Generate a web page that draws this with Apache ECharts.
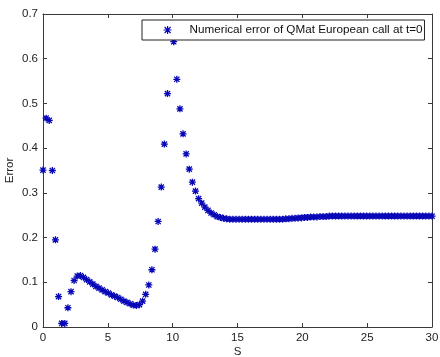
<!DOCTYPE html>
<html>
<head>
<meta charset="utf-8">
<script src="https://cdn.jsdelivr.net/npm/echarts@6/dist/echarts.min.js"></script>
<style>
html,body{margin:0;padding:0;background:#fff;}
#c{width:440px;height:357px;}
</style>
</head>
<body>
<div id="c"></div>
<script>
var seriesName = 'Numerical error of QMat European call at t=0';
var xTicks = [0, 5, 10, 15, 20, 25, 30];
var yTicks = [0, 0.1, 0.2, 0.3, 0.4, 0.5, 0.6, 0.7];
var S = [0,0.24,0.48,0.72,0.96,1.2,1.44,1.68,1.92,2.16,2.4,2.64,2.88,3.12,3.36,3.6,3.84,4.08,4.32,4.56,4.8,5.04,5.28,5.52,5.76,6,6.24,6.48,6.72,6.96,7.2,7.44,7.68,7.92,8.16,8.4,8.64,8.88,9.12,9.36,9.6,9.84,10.08,10.32,10.56,10.8,11.04,11.28,11.52,11.76,12,12.24,12.48,12.72,12.96,13.2,13.44,13.68,13.92,14.16,14.4,14.64,14.88,15.12,15.36,15.6,15.84,16.08,16.32,16.56,16.8,17.04,17.28,17.52,17.76,18,18.24,18.48,18.72,18.96,19.2,19.44,19.68,19.92,20.16,20.4,20.64,20.88,21.12,21.36,21.6,21.84,22.08,22.32,22.56,22.8,23.04,23.28,23.52,23.76,24,24.24,24.48,24.72,24.96,25.2,25.44,25.68,25.92,26.16,26.4,26.64,26.88,27.12,27.36,27.6,27.84,28.08,28.32,28.56,28.8,29.04,29.28,29.52,29.76,30];
var errorValues = [
0.351,0.467,0.462,0.350,0.195,0.068,0.008,0.008,0.043,0.079,
0.104,0.114,0.115,0.111,0.106,0.101,0.096,0.091,0.087,0.083,
0.079,0.076,0.072,0.069,0.066,0.062,0.058,0.055,0.052,0.049,
0.048,0.050,0.058,0.073,0.094,0.128,0.174,0.236,0.313,0.409,
0.522,0.665,0.638,0.554,0.488,0.432,0.387,0.353,0.324,0.304,
0.287,0.277,0.268,0.261,0.255,0.251,0.247,0.245,0.243,0.242,
0.241,0.241,0.241,0.241,0.241,0.241,0.241,0.241,0.241,0.241,
0.241,0.241,0.241,0.241,0.241,0.241,0.241,0.241,
0.242,0.242,
0.243,0.243,0.244,0.244,0.245,0.245,0.246,0.246,0.246,0.247,
0.247,0.247,
0.248,0.248,0.248,0.248,0.248,0.248,0.248,0.248,0.248,0.248,
0.248,0.248,0.248,0.248,0.248,0.248,0.248,0.248,0.248,0.248,
0.248,0.248,0.248,0.248,0.248,0.248,0.248,0.248,0.248,0.248,
0.248,0.248,0.248,0.248
];

var points = S.map(function (s, i) { return [s, errorValues[i]]; });

var FONT = '"Liberation Sans", Arial, Helvetica, sans-serif';
var MARK = '#0808b8';
var AXC = '#3a3a3a';
var star = 'path://M0,-4L0,4M-4,0L4,0M-3,-3L3,3M-3,3L3,-3';
var legendStar = 'path://M-17,-4L-17,-4M17,4L17,4M0,-4L0,4M-4,0L4,0M-3,-3L3,3M-3,3L3,-3';

function xAxisCfg(pos, showLabel) {
  return {
    type: 'value', position: pos, min: xTicks[0], max: xTicks[xTicks.length - 1], interval: 5,
    axisLine: { show: true, onZero: false, lineStyle: { color: AXC, width: 1 } },
    axisTick: { show: true, inside: true, length: 4, lineStyle: { color: AXC } },
    axisLabel: { show: showLabel, margin: 5, color: '#222', fontSize: 11.5, fontFamily: FONT },
    splitLine: { show: false }
  };
}
function yAxisCfg(pos, showLabel) {
  return {
    type: 'value', position: pos, min: yTicks[0], max: yTicks[yTicks.length - 1], interval: 0.1,
    axisLine: { show: true, onZero: false, lineStyle: { color: AXC, width: 1 } },
    axisTick: { show: true, inside: true, length: 4, lineStyle: { color: AXC } },
    axisLabel: { show: showLabel, margin: 5, color: '#222', fontSize: 11.5, fontFamily: FONT },
    splitLine: { show: false }
  };
}

var xb = xAxisCfg('bottom', true);
xb.name = 'S'; xb.nameLocation = 'middle'; xb.nameGap = 19; xb.nameMoveOverlap = false;
xb.nameTextStyle = { color: '#222', fontSize: 11.5, fontFamily: FONT };
var yl = yAxisCfg('left', true);
yl.name = 'Error'; yl.nameLocation = 'middle'; yl.nameGap = 27; yl.nameMoveOverlap = false;
yl.nameTextStyle = { color: '#222', fontSize: 11.5, fontFamily: FONT };

var chart = echarts.init(document.getElementById('c'), null, { renderer: 'canvas' });
chart.setOption({
  animation: false,
  backgroundColor: '#fff',
  textStyle: { fontFamily: FONT },
  grid: { left: 43, right: 8, top: 14, bottom: 30, containLabel: false, outerBoundsMode: 'none' },
  xAxis: [xb, xAxisCfg('top', false)],
  yAxis: [yl, yAxisCfg('right', false)],
  legend: {
    left: 142, top: 20,
    orient: 'horizontal',
    padding: [4, 2, 4, 8],
    itemWidth: 34, itemHeight: 8,
    backgroundColor: '#fff',
    borderColor: '#222', borderWidth: 1, borderRadius: 0,
    selectedMode: false,
    textStyle: { color: '#111', fontSize: 11.7, fontFamily: FONT, lineHeight: 12 },
    itemStyle: { color: MARK, borderColor: MARK, borderWidth: 1.2 },
    data: [{ name: seriesName, icon: legendStar }]
  },
  series: [{
    name: seriesName,
    type: 'scatter',
    xAxisIndex: 0, yAxisIndex: 0,
    symbol: star,
    symbolSize: 7,
    itemStyle: { color: MARK, borderColor: MARK, borderWidth: 1.3, opacity: 1 },
    emphasis: { disabled: true },
    data: points
  }]
});
</script>
</body>
</html>
